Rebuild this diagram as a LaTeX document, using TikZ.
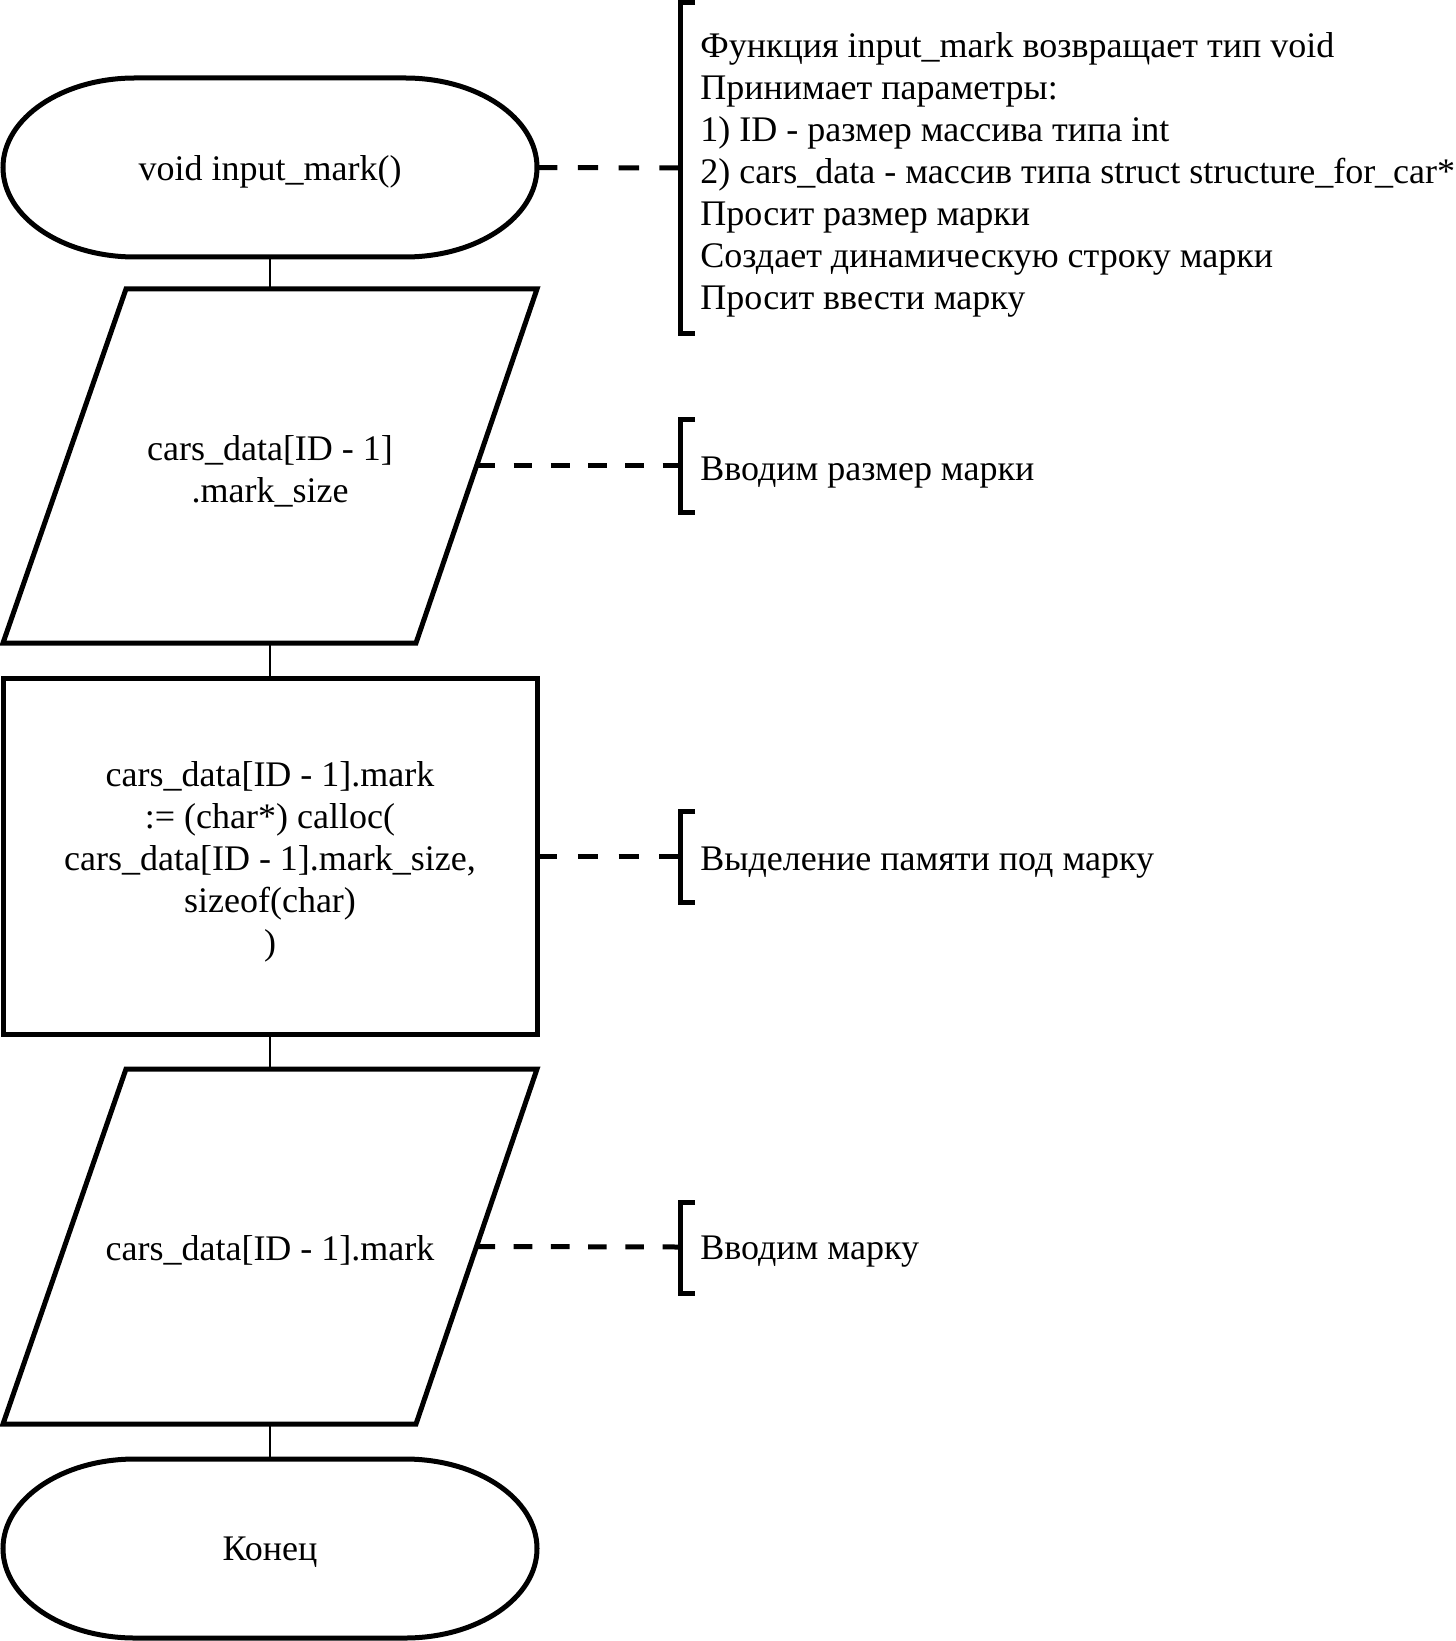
\documentclass[tikz,border=0pt]{standalone}
\usepackage{fontspec}
\setmainfont{Liberation Serif}
\begin{document}
\begin{tikzpicture}[x=0.5pt,y=-0.5pt,
  blk/.style={inner sep=0pt, outer sep=0pt, minimum width=267pt},
  txt/.style={inner sep=0pt, align=center, font=\fontsize{18}{21}\selectfont},
  outl/.style={line width=2.5pt, line join=miter},
  link/.style={line width=1.25pt},
  dshA/.style={line width=2.5pt, dash pattern=on 10.2pt off 10.2pt},
  dshB/.style={line width=2.5pt, dash pattern=on 9.3pt off 9.3pt},
  brk/.style={line width=2.5pt, line join=miter},
  note/.style={anchor=west, align=left, inner sep=0pt, font=\fontsize{18}{21}\selectfont}]
\useasboundingbox (0,0) rectangle (1455,1641);
\fill[white] (0,0) rectangle (1455,1641);

% start terminator
\node[blk, minimum height=89.5pt] (start) at (270,167.5) {};
\draw[outl] (135,78) -- (405,78) .. controls (477.9,78) and (537,118.1) .. (537,167.5)
  .. controls (537,216.9) and (477.9,257) .. (405,257) -- (135,257)
  .. controls (62.1,257) and (3,216.9) .. (3,167.5)
  .. controls (3,118.1) and (62.1,78) .. (135,78) -- cycle;
\node[txt] (startlbl) at (270,171.5) {void input\_mark()};

% input 1
\node[blk, minimum height=177pt] (p1) at (270,466) {};
\draw[outl] (126,289) -- (537,289) -- (416,643) -- (3,643) -- cycle;
\coordinate (p1e) at (476.5,466);
\node[txt] (p1lbl) at (270,471) {cars\_data[ID - 1]\\.mark\_size};

% process
\node[blk, draw, line width=2.5pt, minimum height=178pt] (r) at (270,856) {};
\node[txt] (rlbl) at (270,862)
  {cars\_data[ID - 1].mark\\:= (char*) calloc(\\cars\_data[ID - 1].mark\_size,\\sizeof(char)\\)};

% input 2
\node[blk, minimum height=177.5pt] (p2) at (270,1246.5) {};
\draw[outl] (126,1069) -- (537,1069) -- (416,1424) -- (3,1424) -- cycle;
\coordinate (p2e) at (476.5,1246.5);
\node[txt] (p2lbl) at (270,1250) {cars\_data[ID - 1].mark};

% end terminator
\node[blk, minimum height=89.5pt] (end) at (270,1548.5) {};
\draw[outl] (135,1459) -- (405,1459) .. controls (477.9,1459) and (537,1499.1) .. (537,1548.5)
  .. controls (537,1597.9) and (477.9,1638) .. (405,1638) -- (135,1638)
  .. controls (62.1,1638) and (3,1597.9) .. (3,1548.5)
  .. controls (3,1499.1) and (62.1,1459) .. (135,1459) -- cycle;
\node[txt] (endlbl) at (270,1552.5) {Конец};

% connectors
\draw[link] (start.south) -- (p1.north);
\draw[link] (p1.south) -- (r.north);
\draw[link] (r.south) -- (p2.north);
\draw[link] (p2.south) -- (end.north);

% annotations
\coordinate (b1) at (680,168);
\coordinate (b2) at (680,466);
\coordinate (b3) at (680,856);
\coordinate (b4) at (680,1247);
\draw[brk] (695,3) -- (680,3) -- (680,334) -- (695,334);
\draw[brk] (695,420) -- (680,420) -- (680,513) -- (695,513);
\draw[brk] (695,811) -- (680,811) -- (680,902) -- (695,902);
\draw[brk] (695,1202) -- (680,1202) -- (680,1293) -- (695,1293);

\draw[dshA] (start.east) -- (b1);
\draw[dshB] (p1e) -- (b2);
\draw[dshA] (r.east) -- (b3);
\draw[dshB] (p2e) -- (b4);

\node[note] (n1) at (700,175) {Функция input\_mark возвращает тип void\\Принимает параметры:\\1) ID - размер массива типа int\\2) cars\_data - массив типа struct structure\_for\_car*\\Просит размер марки\\Создает динамическую строку марки\\Просит ввести марку};
\node[note] (n2) at (700,473) {Вводим размер марки};
\node[note] (n3) at (700,863) {Выделение памяти под марку};
\node[note] (n4) at (700,1252) {Вводим марку};
\end{tikzpicture}
\end{document}
